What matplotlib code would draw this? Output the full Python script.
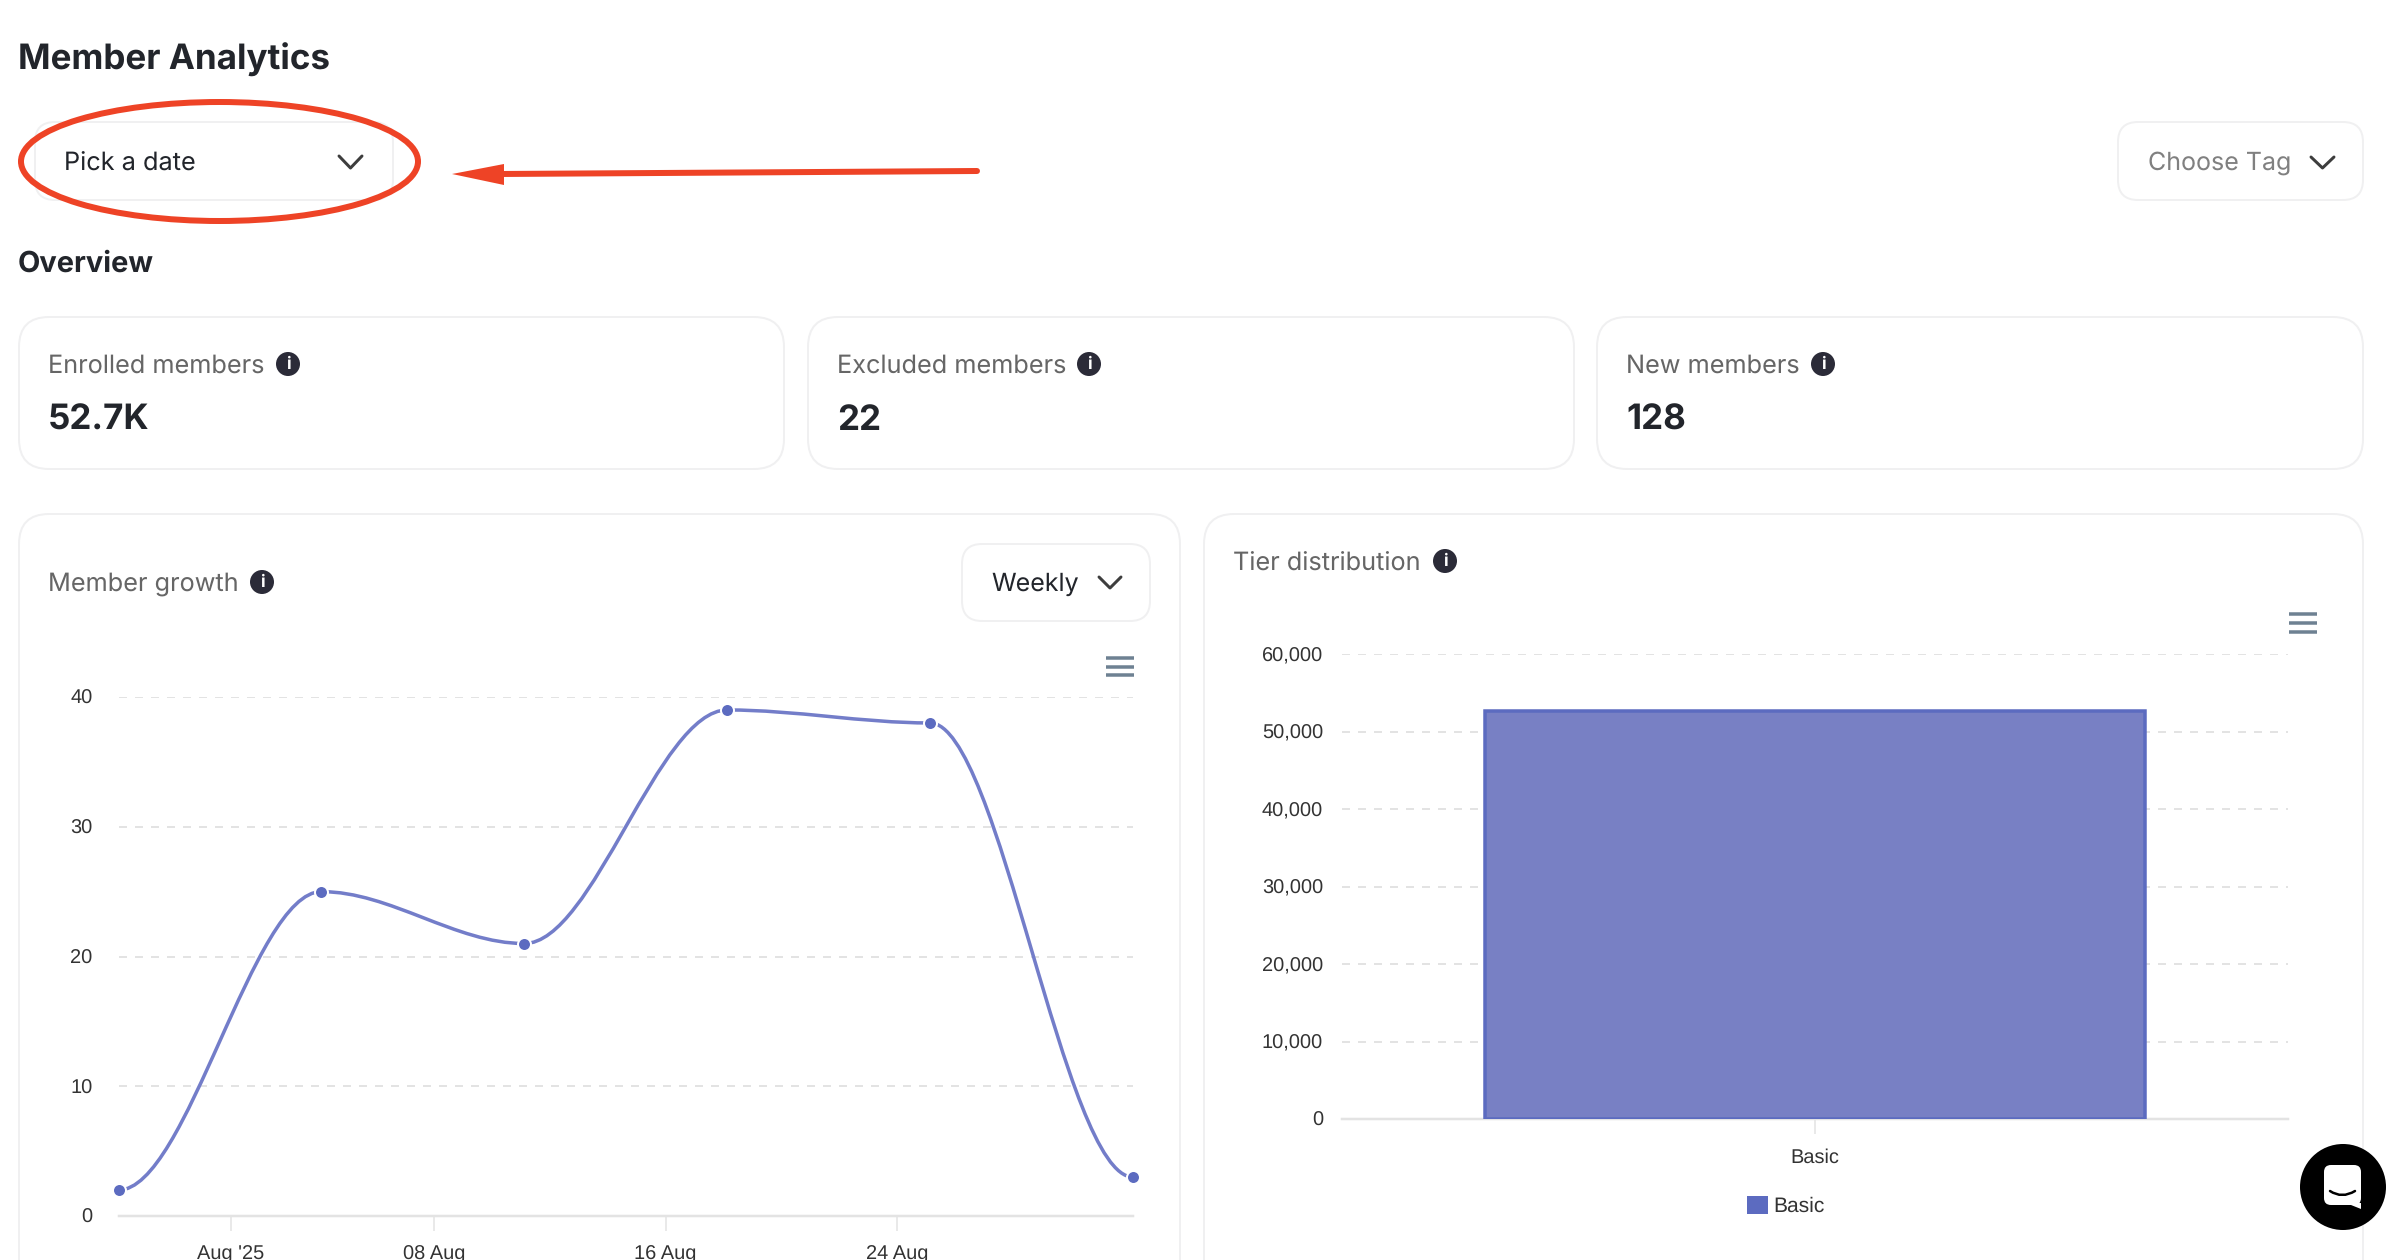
# Member Analytics dashboard screenshot rebuilt in matplotlib.
# The page chrome sits on a full-figure axes in pixel coordinates,
# the two charts are ordinary axes placed on top of it.
import datetime as dt
import matplotlib
matplotlib.use('Agg')
import matplotlib.pyplot as plt
import matplotlib.dates as mdates
from matplotlib.patches import FancyBboxPatch, Circle, Ellipse, Polygon, PathPatch, Rectangle
from matplotlib.path import Path

W, H = 2406, 1260

# ── Data ──────────────────────────────────────────────────────────────────────
growth_dates = [dt.datetime(2025, 7, 28, 3), dt.datetime(2025, 8, 4, 3), dt.datetime(2025, 8, 11, 3),
                dt.datetime(2025, 8, 18, 3), dt.datetime(2025, 8, 25, 3), dt.datetime(2025, 9, 1, 3)]
growth_values = [2, 25, 21, 39, 38, 3]
growth_yticks = [0, 10, 20, 30, 40]
growth_xticks = [dt.datetime(2025, 8, 1), dt.datetime(2025, 8, 8), dt.datetime(2025, 8, 16), dt.datetime(2025, 8, 24)]
growth_xlabels = ["Aug '25", '08 Aug', '16 Aug', '24 Aug']

tiers = ['Basic']
tier_values = [52700]
tier_yticks = [0, 10000, 20000, 30000, 40000, 50000, 60000]

kpi_names = ['Enrolled members', 'Excluded members', 'New members']
kpi_values = ['52.7K', '22', '128']

# ── Styles ────────────────────────────────────────────────────────────────────
UI = 'Inter'
INK = '#22252b'
GREY = '#666666'
BORDER = '#f0f0f1'
GRID = '#e3e3e3'
PURPLE = '#5c6bc0'
BAR_FILL = '#7880c4'
RED = '#ee4326'
ICON = '#2b2b38'

plt.rcParams['font.family'] = ['Liberation Sans', 'DejaVu Sans']
plt.rcParams['text.hinting'] = 'none'
plt.rcParams['text.hinting_factor'] = 1
plt.rcParams['ytick.alignment'] = 'center_baseline'


def px(size):
    return size * 0.72


fig = plt.figure(figsize=(W / 100, H / 100), dpi=100, facecolor='white')
bg = fig.add_axes([0, 0, 1, 1])
bg.set_xlim(0, W)
bg.set_ylim(H, 0)
bg.axis('off')


def card(x0, y0, x1, y1, r, color=BORDER):
    bg.add_patch(FancyBboxPatch((x0, y0), x1 - x0, y1 - y0,
                                boxstyle=f'round,pad=0,rounding_size={r}',
                                fc='white', ec=color, lw=px(2)))


def chevron(x0, x1, y0, y1, color='#3d3d3d'):
    bg.plot([x0, (x0 + x1) / 2, x1], [y0, y1, y0], color=color, lw=px(3),
            solid_capstyle='round', solid_joinstyle='round')


def label(x, y, s, size, color=INK, weight='normal'):
    # va=center counts the descender, so nudge down to sit where the page text sits
    bg.text(x, y + 4.5, s, family=UI, fontsize=px(size), color=color, fontweight=weight,
            ha='left', va='center')


def info(cx, cy):
    bg.add_patch(Circle((cx, cy), 12, fc=ICON, ec='none'))
    bg.text(cx, cy + 0.5, 'i', color='white', fontsize=px(17), family=UI,
            fontweight='bold', ha='center', va='center')


def menu(x0, x1, y0, y1):
    for y in (y0, (y0 + y1) / 2, y1):
        bg.plot([x0, x1], [y, y], color='#6e8192', lw=px(3.5), solid_capstyle='butt')


def axes_px(x0, y0, x1, y1):
    ax = fig.add_axes([x0 / W, 1 - y1 / H, (x1 - x0) / W, (y1 - y0) / H])
    ax.patch.set_alpha(0)
    for side in ('top', 'left', 'right'):
        ax.spines[side].set_visible(False)
    ax.spines['bottom'].set_color(GRID)
    ax.spines['bottom'].set_linewidth(px(2.5))
    ax.grid(axis='y', color=GRID, lw=px(2), ls=(0, (4, 4)))
    ax.set_axisbelow(True)
    ax.tick_params(axis='y', length=0, pad=px(26), labelsize=px(20.5), labelcolor='#333333')
    ax.tick_params(axis='x', length=px(15), width=px(1.5), color=GRID,
                   pad=px(14), labelsize=px(20.5), labelcolor='#333333')
    return ax


# ── Header ────────────────────────────────────────────────────────────────────
label(18, 55, 'Member Analytics', 35, weight='bold')
card(35, 122, 393, 200, 20)
label(64, 159, 'Pick a date', 25.3)
chevron(339, 362, 156, 168)
bg.add_patch(Ellipse((219.5, 161.5), 397, 119, fc='none', ec=RED, lw=px(6)))
bg.plot([977, 500], [171, 174], color=RED, lw=px(6), solid_capstyle='round')
bg.add_patch(Polygon([(452, 174), (504, 164), (504, 185)], fc=RED, ec='none'))
card(2118, 122, 2363, 200, 20)
label(2148, 159, 'Choose Tag', 25, color='#808080')
chevron(2311, 2334, 157, 168)
label(18, 260, 'Overview', 29, weight='bold')

# ── KPI cards ─────────────────────────────────────────────────────────────────
kpi_boxes = [(19, 784), (808, 1574), (1597, 2363)]
kpi_info = [288, 1089, 1823]
for (x0, x1), name, value, ix in zip(kpi_boxes, kpi_names, kpi_values, kpi_info):
    card(x0, 317, x1, 469, 30)
    label(x0 + 29, 362, name, 25.3, color=GREY)
    info(ix, 364)
    label(x0 + 29, 416, value, 35, weight='bold')

# ── Panels ────────────────────────────────────────────────────────────────────
card(19, 514, 1180, 1330, 30)
card(1204, 514, 2363, 1330, 30)

label(48, 580, 'Member growth', 25.3, color=GREY)
info(262, 582)
card(962, 544, 1150, 621, 20)
label(991, 580, 'Weekly', 25, color=INK)
chevron(1099, 1121, 577, 588)
menu(1106, 1134, 658, 675)

label(1233, 559, 'Tier distribution', 25.3, color=GREY)
info(1445, 561)
menu(2289, 2317, 614, 632)

# ── Member growth line chart ──────────────────────────────────────────────────
ax1 = axes_px(118.5, 697, 1133, 1216)
xs = mdates.date2num(growth_dates)
verts = [(xs[0], growth_values[0])]
codes = [Path.MOVETO]
for i in range(len(xs) - 1):
    # bezier segment with flat tangents at each point, same as the web chart
    dx = (xs[i + 1] - xs[i]) * 0.34
    verts += [(xs[i] + dx, growth_values[i]), (xs[i + 1] - dx, growth_values[i + 1]),
              (xs[i + 1], growth_values[i + 1])]
    codes += [Path.CURVE4] * 3
ax1.add_patch(PathPatch(Path(verts, codes), fc='none', ec='#737dc9', lw=px(3.5), zorder=3))
ax1.plot(growth_dates, growth_values, ls='none', marker='o', ms=px(13), mfc=PURPLE,
         mec='white', mew=px(2), clip_on=False, zorder=4)
ax1.set_xlim(xs[0], xs[-1])
ax1.set_ylim(0, 40)
ax1.set_yticks(growth_yticks)
ax1.set_xticks(mdates.date2num(growth_xticks))
ax1.set_xticklabels(growth_xlabels)

# ── Tier distribution bar chart ───────────────────────────────────────────────
ax2 = axes_px(1342, 654, 2288, 1119)
ax2.bar(tiers, tier_values, width=0.697, fc=BAR_FILL, ec=PURPLE, lw=px(3.5), zorder=3, label=tiers[0])
ax2.set_xlim(-0.5, 0.5)
ax2.set_ylim(0, 60000)
ax2.set_yticks(tier_yticks)
ax2.set_yticklabels([f'{v:,}' for v in tier_yticks])
ax2.tick_params(axis='y', pad=px(19))
ax2.tick_params(axis='x', pad=px(14))
handle = Rectangle((0, 0), 1, 1, fc=PURPLE, ec='none')
ax2.legend([handle], tiers, frameon=False, loc='center', fontsize=px(21), labelcolor='#333333',
           bbox_to_anchor=((1786 - 1342) / 946, (1119 - 1206) / 465),
           handlelength=1.0, handleheight=1.0, handletextpad=0.25)

# ── Chat bubble button ────────────────────────────────────────────────────────
fab = fig.add_axes([0, 0, 1, 1])
fab.set_xlim(0, W)
fab.set_ylim(H, 0)
fab.axis('off')
fab.add_patch(Circle((2343, 1187), 43, fc='black', ec='none'))
fab.add_patch(FancyBboxPatch((2324, 1165), 37, 40, boxstyle='round,pad=0,rounding_size=7',
                             fc='white', ec='none'))
fab.add_patch(Polygon([(2346, 1203), (2361, 1203), (2361, 1209)], fc='white', ec='none'))
smile = Path([(2330, 1191), (2342, 1199), (2355, 1191)], [Path.MOVETO, Path.CURVE3, Path.CURVE3])
fab.add_patch(PathPatch(smile, fc='none', ec='black', lw=px(2.5), capstyle='round'))

fig.savefig('out.png', dpi=100, facecolor='white')
